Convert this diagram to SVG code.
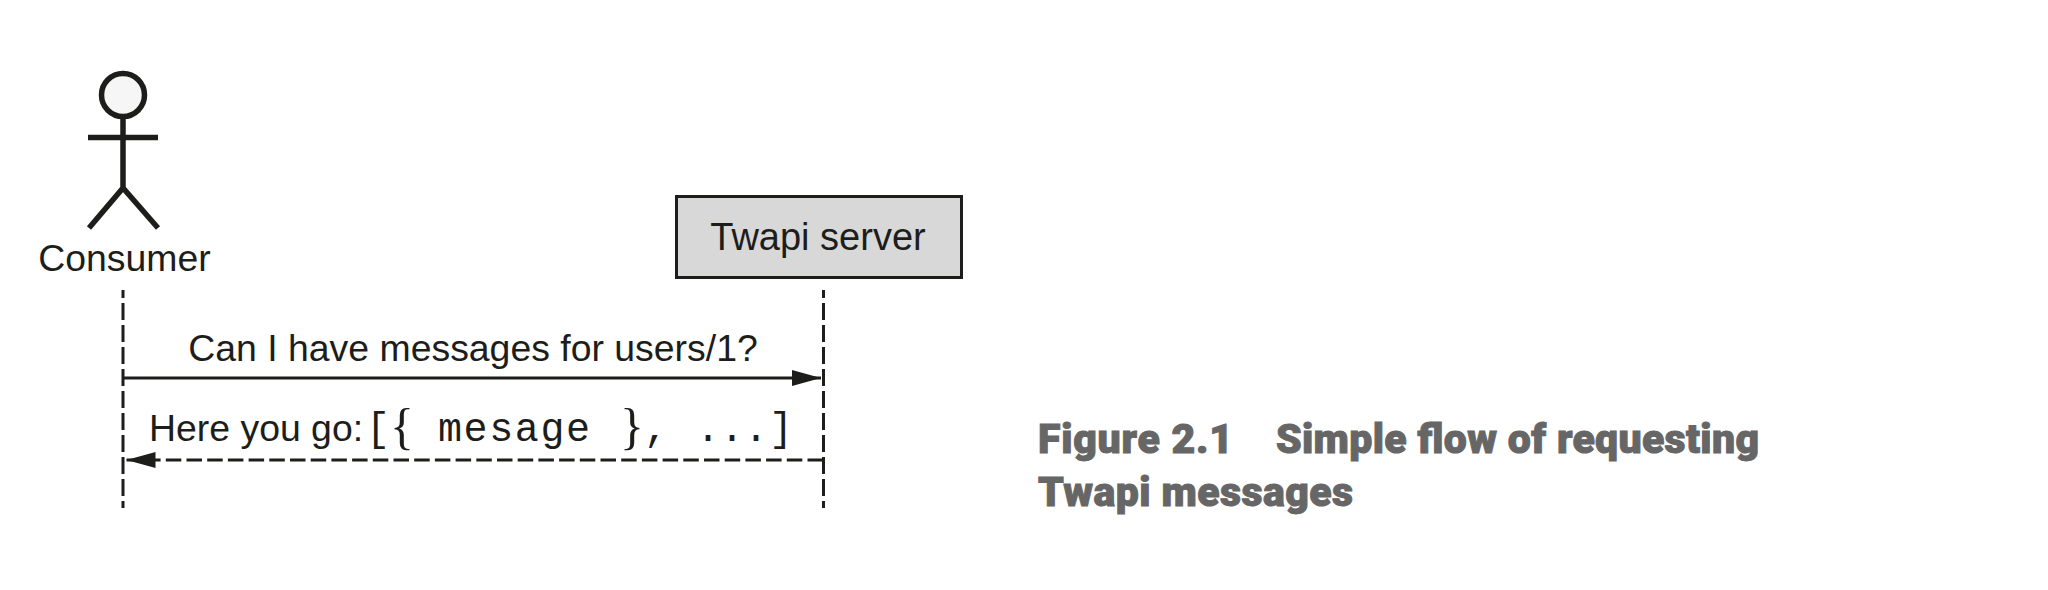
<svg xmlns="http://www.w3.org/2000/svg" width="2048" height="590" viewBox="0 0 2048 590">
<style>
.t{font-family:"Liberation Sans",Arial,sans-serif;font-size:37.400px;fill:#1d1d1b}
.m{font-family:"Liberation Mono","Courier New",monospace;font-size:40px;fill:#1d1d1b}
.b{font-family:"Liberation Serif",serif;font-size:50px;fill:#1d1d1b}
.s{stroke:#1d1d1b;fill:none}
.d{stroke-width:3;stroke-dasharray:17 5}
.e{stroke-width:3;stroke-dasharray:15.500 5.200}
.c{font-family:"Roboto","Liberation Sans",sans-serif;font-weight:900;font-size:41px;fill:#666;stroke:#666;stroke-width:1}
</style>
<defs>
<marker id="a" markerUnits="userSpaceOnUse" markerWidth="30" markerHeight="16" refX="29" refY="8" orient="auto"><path d="M0 0L29 8L0 16Z" fill="#1d1d1b"/></marker>
</defs>
<rect width="2048" height="590" fill="#fff"/>
<g id="consumer">
<circle cx="123" cy="95" r="21.500" fill="#f6f6f6" stroke="#1d1d1b" stroke-width="5.500"/>
<path class="s" stroke-width="5.500" d="M123 117V188M88 137.500H158M89 228L123 188L158 228"/>
<text class="t" x="124.500" y="271" text-anchor="middle">Consumer</text>
</g>
<g id="server">
<rect x="676.500" y="196.500" width="285" height="81" fill="#d8d8d8" stroke="#1d1d1b" stroke-width="3"/>
<text class="t" x="818" y="250" text-anchor="middle" style="font-size:38px">Twapi server</text>
</g>
<g id="connectors">
<path class="s d" stroke-dashoffset="9" d="M123 290V508"/>
<path class="s d" stroke-dashoffset="9" d="M823.500 290V508"/>
<path class="s" stroke-width="3" d="M123 378H821" marker-end="url(#a)"/>
<path class="s e" d="M823 460H126.500" marker-end="url(#a)"/>
</g>
<g id="labels">
<text class="t" x="473" y="361" text-anchor="middle">Can I have messages for users/1?</text>
<text class="t" x="149" y="441">Here you go:</text>
<text class="m" x="366" y="441">[</text>
<text class="b" x="390" y="443">{</text>
<text class="m" x="438" y="441" textLength="152">mesage</text>
<text class="b" x="620" y="443">}</text>
<text class="m" x="644" y="441">,</text>
<text class="m" x="696" y="441">...</text>
<text class="m" x="769" y="441">]</text>
</g>
<g id="caption">
<text class="c" x="1038" y="453" textLength="195">Figure 2.1</text>
<text class="c" x="1276" y="453" textLength="483">Simple flow of requesting</text>
<text class="c" x="1038" y="506" textLength="315">Twapi messages</text>
</g>
</svg>
